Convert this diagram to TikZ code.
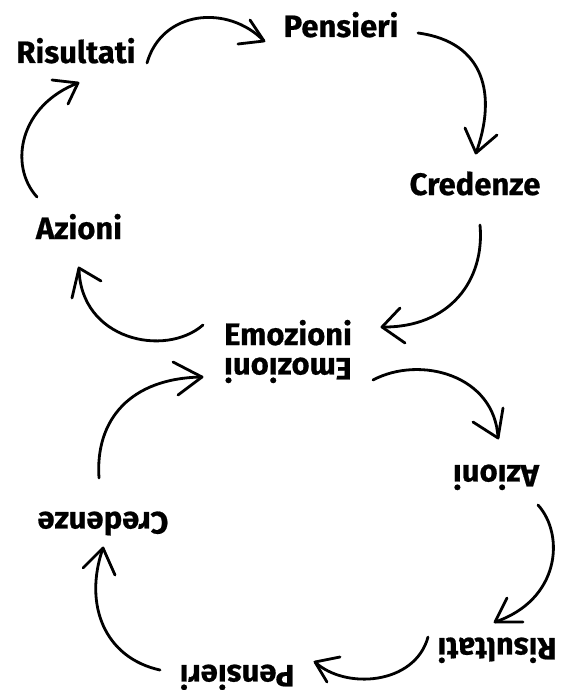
\documentclass[tikz,border=0pt]{standalone}
\usepackage{fontspec}
\setmainfont{Fira Sans}[BoldFeatures={FakeBold=0.6}]
\begin{document}
\begin{tikzpicture}[x=1pt,y=-1pt,
  lbl/.style={font=\bfseries\fontsize{31}{31}\selectfont, inner sep=0pt, anchor=base},
  flip/.style={lbl, rotate=180},
  conn/.style={line width=2.8pt, line cap=round, line join=round, black}]
\useasboundingbox[fill=white] (0,0) rectangle (564,690);
% top half
\node[lbl] (ris1) at (76,63) {Risultati};
\node[lbl] (pen1) at (341,37) {Pensieri};
\node[lbl] (cre1) at (475,195) {Credenze};
\node[lbl] (azi1) at (79,239) {Azioni};
\node[lbl] (emo1) at (288,345) {Emozioni};
% bottom half (upside down)
\node[flip] (emo2) at (288,358) {Emozioni};
\node[flip] (azi2) at (496,465) {Azioni};
\node[flip] (ris2) at (497,638) {Risultati};
\node[flip] (pen2) at (237,665) {Pensieri};
\node[flip] (cre2) at (103,512) {Credenze};
% coordinates
\coordinate (s1) at (147,63);  \coordinate (t1) at (264,41);
\coordinate (l1) at (250,20);  \coordinate (r1) at (238,44);
\coordinate (s2) at (418,33);  \coordinate (t2) at (476,153);
\coordinate (l2) at (465,128); \coordinate (r2) at (497,135);
\coordinate (s3) at (480,225); \coordinate (t3) at (382,327);
\coordinate (l3) at (400,308); \coordinate (r3) at (405,343);
\coordinate (s4) at (203,325); \coordinate (t4) at (79,268);
\coordinate (l4) at (72,298);  \coordinate (r4) at (101,281);
\coordinate (s5) at (37,197);  \coordinate (t5) at (78,83);
\coordinate (l5) at (52,80);   \coordinate (r5) at (68,104);
\coordinate (s6) at (373,380); \coordinate (t6) at (498,438);
\coordinate (l6) at (503,408); \coordinate (r6) at (473,422);
\coordinate (s7) at (538,505); \coordinate (t7) at (495,622);
\coordinate (l7) at (507,598); \coordinate (r7) at (523,622);
\coordinate (s8) at (428,637); \coordinate (t8) at (315,662);
\coordinate (l8) at (340,657); \coordinate (r8) at (327,682);
\coordinate (s9) at (160,670); \coordinate (t9) at (103,548);
\coordinate (l9) at (83,568);  \coordinate (r9) at (115,575);
\coordinate (s10) at (99,478); \coordinate (t10) at (202,377);
\coordinate (l10) at (173,362); \coordinate (r10) at (178,395);
% connectors
\draw[conn] (s1) .. controls (162,10) and (228,4) .. (t1);
\draw[conn] (l1) -- (t1) -- (r1);
\draw[conn] (s2) .. controls (485,42) and (497,95) .. (t2);
\draw[conn] (l2) -- (t2) -- (r2);
\draw[conn] (s3) .. controls (485,280) and (450,328) .. (t3);
\draw[conn] (l3) -- (t3) -- (r3);
\draw[conn] (s4) .. controls (165,358) and (80,340) .. (t4);
\draw[conn] (l4) -- (t4) -- (r4);
\draw[conn] (s5) .. controls (8,165) and (20,105) .. (t5);
\draw[conn] (l5) -- (t5) -- (r5);
\draw[conn] (s6) .. controls (420,355) and (495,375) .. (t6);
\draw[conn] (l6) -- (t6) -- (r6);
\draw[conn] (s7) .. controls (565,535) and (560,600) .. (t7);
\draw[conn] (l7) -- (t7) -- (r7);
\draw[conn] (s8) .. controls (415,685) and (345,690) .. (t8);
\draw[conn] (l8) -- (t8) -- (r8);
\draw[conn] (s9) .. controls (105,658) and (83,605) .. (t9);
\draw[conn] (l9) -- (t9) -- (r9);
\draw[conn] (s10) .. controls (95,420) and (130,378) .. (t10);
\draw[conn] (l10) -- (t10) -- (r10);
\end{tikzpicture}
\end{document}
